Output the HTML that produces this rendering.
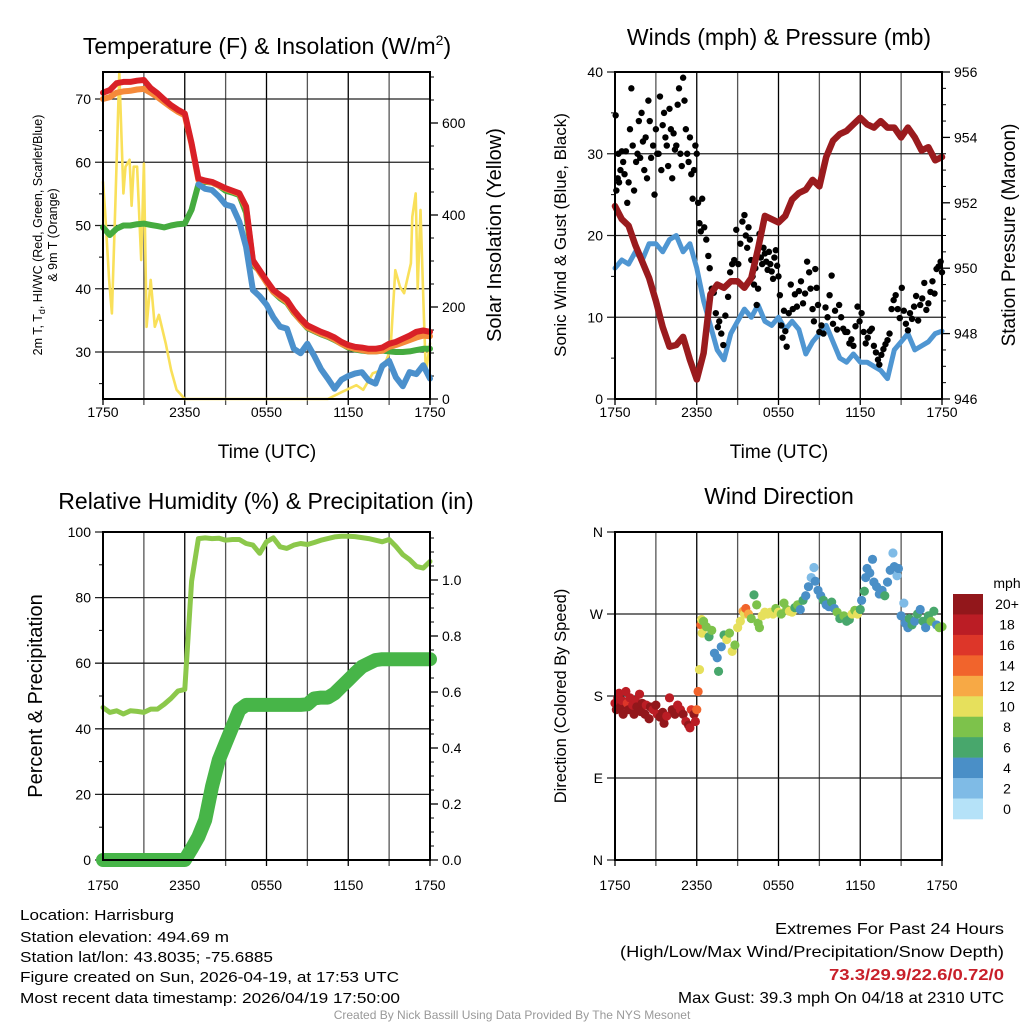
<!DOCTYPE html>
<html><head><meta charset="utf-8">
<style>
html,body{margin:0;padding:0;background:#fff;}
svg{display:block;font-family:"Liberation Sans",Arial,sans-serif;}
</style></head>
<body>
<svg id="fig" width="1024" height="1024" viewBox="0 0 1024 1024">
<rect x="0" y="0" width="1024" height="1024" fill="#fff"/>
<g id="layer"></g>
<g fill="#000" text-anchor="middle">
<text x="267" y="54" font-size="23">Temperature (F) &amp; Insolation (W/m<tspan font-size="14" dy="-9">2</tspan><tspan dy="9">)</tspan></text>
<text x="779" y="45" font-size="23">Winds (mph) &amp; Pressure (mb)</text>
<text x="266" y="509" font-size="23">Relative Humidity (%) &amp; Precipitation (in)</text>
<text x="779" y="504" font-size="23">Wind Direction</text>
<text x="267" y="458" font-size="19">Time (UTC)</text>
<text x="779" y="458" font-size="19">Time (UTC)</text>
<text transform="translate(42,235) rotate(-90)" font-size="12.5">2m T, T<tspan font-size="9" dy="3">d</tspan><tspan dy="-3">, HI/WC (Red, Green, Scarlet/Blue)</tspan></text>
<text transform="translate(57,235) rotate(-90)" font-size="12.5">&amp; 9m T (Orange)</text>
<text transform="translate(501,235) rotate(-90)" font-size="20">Solar Insolation (Yellow)</text>
<text transform="translate(566,235) rotate(-90)" font-size="17">Sonic Wind &amp; Gust (Blue, Black)</text>
<text transform="translate(1015,235) rotate(-90)" font-size="19">Station Pressure (Maroon)</text>
<text transform="translate(42,696) rotate(-90)" font-size="20">Percent &amp; Precipitation</text>
<text transform="translate(566,696) rotate(-90)" font-size="16.5">Direction (Colored By Speed)</text>
<text x="1007" y="588" font-size="14">mph</text>
</g>
<g font-size="15" fill="#000">
<text x="20" y="920" textLength="154" lengthAdjust="spacingAndGlyphs">Location: Harrisburg</text>
<text x="20" y="942" textLength="209" lengthAdjust="spacingAndGlyphs">Station elevation: 494.69 m</text>
<text x="20" y="962" textLength="253" lengthAdjust="spacingAndGlyphs">Station lat/lon: 43.8035; -75.6885</text>
<text x="20" y="982" textLength="379" lengthAdjust="spacingAndGlyphs">Figure created on Sun, 2026-04-19, at 17:53 UTC</text>
<text x="20" y="1003" textLength="380" lengthAdjust="spacingAndGlyphs">Most recent data timestamp: 2026/04/19 17:50:00</text>
</g>
<g font-size="16" fill="#000" text-anchor="end">
<text x="1004" y="934" textLength="229" lengthAdjust="spacingAndGlyphs">Extremes For Past 24 Hours</text>
<text x="1004" y="957" textLength="384" lengthAdjust="spacingAndGlyphs">(High/Low/Max Wind/Precipitation/Snow Depth)</text>
<text x="1004" y="980" textLength="175" lengthAdjust="spacingAndGlyphs" fill="#c8202a" font-weight="bold">73.3/29.9/22.6/0.72/0</text>
<text x="1004" y="1003" textLength="326" lengthAdjust="spacingAndGlyphs">Max Gust: 39.3 mph On 04/18 at 2310 UTC</text>
</g>
<text x="512" y="1019" font-size="12" fill="#999" text-anchor="middle">Created By Nick Bassill Using Data Provided By The NYS Mesonet</text>
</svg>
<script>
// ---- shared time axis ----
const hours = [0,0.5,1,1.5,2,2.5,3,3.5,4,4.5,5,5.5,6,6.5,7,7.5,8,8.5,9,9.5,10,10.5,11,11.5,12,12.5,13,13.5,14,14.5,15,15.5,16,16.5,17,17.5,18,18.5,19,19.5,20,20.5,21,21.5,22,22.5,23,23.5,24];
const timeTickLabels = ["1750","2350","0550","1150","1750"];
const timeTickHours = [0,6,12,18,24];
// ---- panel 1: temperature ----
const temp2m = [71.0,71.4,72.5,72.7,72.7,72.9,73.0,71.7,70.9,69.9,69.0,68.3,67.7,63.0,57.4,57.1,56.9,56.4,55.9,55.5,55.1,53.0,44.5,42.9,41.3,39.8,39.0,38.2,36.6,35.3,34.2,33.7,33.2,32.8,32.3,31.6,31.1,30.8,30.7,30.5,30.5,30.7,31.3,31.6,32.1,32.6,33.2,33.4,33.2];
const temp9m = [70.0,70.3,71.0,71.2,71.3,71.5,71.6,71.0,70.3,69.5,68.7,68.0,67.4,62.8,57.2,57.0,56.8,56.3,55.8,55.4,55.0,52.8,44.3,42.6,41.0,39.5,38.7,37.9,36.3,35.0,33.9,33.4,32.9,32.5,32.0,31.3,30.8,30.5,30.3,30.1,30.1,30.2,30.8,31.1,31.5,31.9,32.3,32.6,32.5];
const dewpoint = [49.7,48.5,49.5,50.0,50.0,50.2,50.3,50.1,49.9,49.7,50.0,50.2,50.3,52.5,56.5,56.9,56.8,56.3,55.5,55.2,54.8,52.0,43.8,42.8,41.0,39.5,38.5,37.8,36.2,35.0,33.8,33.3,32.8,32.4,31.9,31.3,30.7,30.4,30.2,30.1,30.1,30.2,30.1,30.0,30.0,30.1,30.3,30.5,30.5];
const windChill = [null,null,null,null,null,null,null,null,null,null,null,null,null,null,56.5,55.8,55.6,54.6,53.3,53.0,50.6,46.6,39.8,38.8,37.5,35.5,34.0,33.7,30.5,29.8,31.3,29.4,27.3,25.8,24.2,25.6,26.2,26.6,26.8,25.5,25.0,27.8,28.6,26.0,24.6,26.8,26.5,27.9,25.8];
const solarHours = [0,0.15,0.45,0.65,0.9,1.2,1.5,1.65,1.95,2.1,2.25,2.5,2.6,2.8,3.0,3.2,3.5,3.8,4.1,4.6,5.0,5.4,6.0,8,12,16.5,17.6,18.6,19.1,19.8,20.5,21.1,21.45,21.8,22.1,22.6,22.7,22.95,23.1,23.3,23.55,23.7,24];
const solarWm2 = [472,411,260,186,420,711,447,505,520,420,505,505,440,302,512,157,259,157,183,121,63,20,0,0,0,0,16,30,20,56,63,107,280,244,230,295,396,447,240,411,179,56,121];
// ---- panel 2: winds ----
const sonicWind = [16.0,17.0,16.5,18.0,17.0,19.0,19.0,18.0,19.5,20.0,18.0,19.0,16.0,12.0,9.0,6.0,4.8,8.0,9.5,11.0,10.0,11.5,9.5,9.0,10.0,8.5,9.5,8.5,5.5,7.0,8.0,9.0,7.0,5.0,4.5,5.5,4.5,4.5,4.0,3.5,2.5,6.0,7.0,8.0,6.0,6.5,7.0,8.0,8.3];
const pressure = [951.9,951.5,951.3,950.7,950.2,949.7,949.0,948.2,947.6,947.65,947.9,947.2,946.6,947.4,949.2,949.5,949.4,949.6,949.6,949.4,949.7,950.6,951.6,951.5,951.4,951.6,952.1,952.3,952.4,952.7,952.5,953.4,953.9,954.1,954.2,954.4,954.6,954.4,954.3,954.5,954.3,954.3,954.0,954.3,954.0,953.6,953.7,953.3,953.4];
const gustHours = [0.05,0.1,0.2,0.25,0.3,0.4,0.5,0.6,0.7,0.8,0.9,1.0,1.1,1.2,1.3,1.4,1.55,1.65,1.75,1.85,1.95,2.05,2.15,2.25,2.35,2.45,2.55,2.65,2.8,2.9,3.0,3.1,3.2,3.3,3.4,3.5,3.6,3.7,3.8,3.9,4.0,4.1,4.2,4.3,4.4,4.5,4.6,4.7,4.8,4.9,5.0,5.1,5.2,5.3,5.4,5.5,5.6,5.7,5.8,5.9,6.0,6.1,6.2,6.3,6.4,6.55,6.7,6.85,6.95,7.1,7.25,7.4,7.55,7.65,7.8,7.95,8.1,8.3,8.45,8.6,8.75,8.9,9.05,9.2,9.35,9.5,9.6,9.7,9.8,9.9,10.0,10.1,10.2,10.3,10.4,10.5,10.6,10.7,10.8,10.9,11.0,11.1,11.2,11.3,11.4,11.5,11.6,11.7,11.8,11.9,12.0,12.1,12.2,12.3,12.4,12.5,12.6,12.75,12.9,13.05,13.2,13.35,13.5,13.65,13.8,13.95,14.1,14.25,14.35,14.5,14.6,14.7,14.8,14.9,15.0,15.15,15.3,15.45,15.6,15.75,15.9,16.0,16.15,16.3,16.45,16.6,16.75,16.9,17.05,17.2,17.35,17.5,17.65,17.8,17.95,18.1,18.25,18.4,18.55,18.7,18.85,19.0,19.15,19.3,19.4,19.55,19.7,19.85,20.0,20.15,20.3,20.45,20.6,20.75,20.9,21.05,21.2,21.35,21.5,21.65,21.8,21.95,22.1,22.25,22.4,22.55,22.7,22.85,23.0,23.15,23.3,23.45,23.6,23.75,23.9,24.0];
const gustMph = [34.7,25.5,27,30,26.5,28,30.3,29,27.5,30.3,24,26.5,33,38,31,25.5,29,30,34,29.5,35,31.5,28,32,27,36.5,34,29.5,31,25,33,30,30,37,28,33.5,35,32,31,28.5,35.5,33,27,32.5,30.5,31,36,38,30,28.5,39.3,36.5,33,30,29,32,27.5,24.5,28,31,30,24,21.5,20.5,24.5,21,19.5,17.5,16,13.5,13,10.5,8.8,9.5,8,6.6,10.2,12.5,15.5,16.5,17,20.7,16.5,19,21.7,22.5,20,18.5,21,19.5,17,15,14,16,11.5,13.5,20.2,17.3,16.5,18.5,17.8,16.8,15.8,18,16.5,15.6,14.7,17.3,18.2,16.3,15,12.7,9,7.5,10.8,8.3,6.4,10.5,14,11,12.8,11.3,13.2,14.4,11.7,12.9,16.8,15.5,13.5,11,9.5,15.9,13.6,11.5,8.2,9,8,11.2,10,12.7,15.1,9.2,10.8,8.5,11.5,10,8.6,8.2,8.2,6.8,7.3,6.5,8.9,11.3,9.5,10.5,8.2,6.8,7.5,8.3,8.6,6.5,5.7,4.8,4.2,5.4,6.1,6.7,7.2,8,11,12.1,12.7,11,9.9,13.6,10.8,9.2,8.4,10.5,9.8,11.3,12.6,9.6,11.5,12.3,14.2,10.9,11.7,13.1,14.4,12.9,15.9,16.2,16.8,15.5];
// ---- panel 3: humidity & precipitation ----
const relHumidity = [46.5,45.0,45.5,44.5,45.5,45.3,45.0,46.0,46.0,47.5,49.3,51.5,52.0,85.0,98.0,98.2,98.0,98.1,97.5,97.7,97.7,96.5,96.0,93.5,97.0,98.2,95.5,95.0,96.0,96.5,96.2,96.8,97.5,98.0,98.5,98.7,98.7,98.6,98.3,98.0,97.5,97.0,97.7,95.6,93.1,91.6,89.5,89.0,91.0];
const precipIn = [0,0,0,0,0,0,0,0,0,0,0,0,0,0.04,0.083,0.143,0.262,0.357,0.417,0.476,0.536,0.554,0.554,0.554,0.554,0.554,0.554,0.554,0.554,0.554,0.556,0.577,0.580,0.580,0.595,0.619,0.643,0.667,0.690,0.702,0.714,0.717,0.717,0.717,0.717,0.717,0.717,0.717,0.717];
// ---- panel 4: wind direction ----
const dirHours = [0.0,0.1,0.2,0.3,0.4,0.5,0.6,0.8,0.9,1.0,1.1,1.3,1.4,1.5,1.6,1.8,1.9,2.0,2.2,2.3,2.5,2.6,2.8,3.0,3.1,3.3,3.5,3.6,3.8,4.0,4.2,4.4,4.6,4.8,5.0,5.2,5.4,5.5,5.6,5.8,5.9,6.0,6.1,6.2,6.3,6.35,6.4,6.5,6.7,6.9,7.1,7.3,7.5,7.6,7.8,8.0,8.2,8.4,8.6,8.8,9.0,9.2,9.4,9.5,9.6,9.8,10.0,10.2,10.4,10.5,10.6,10.8,11.0,11.2,11.4,11.6,11.8,12.0,12.2,12.4,12.6,12.8,13.0,13.2,13.4,13.6,13.8,14.0,14.2,14.4,14.6,14.7,14.9,15.1,15.3,15.5,15.7,15.9,16.1,16.3,16.5,16.8,17.0,17.2,17.4,17.6,17.8,18.0,18.1,18.3,18.4,18.5,18.7,18.9,19.0,19.2,19.4,19.6,19.8,20.0,20.2,20.4,20.5,20.7,20.8,21.0,21.2,21.3,21.5,21.6,21.8,22.0,22.2,22.4,22.6,22.8,23.0,23.2,23.4,23.6,23.8,24.0];
const dirDeg = [172,165,178,183,168,175,160,185,172,165,178,170,160,175,168,182,163,172,160,170,155,168,165,170,160,157,162,150,158,178,165,160,170,165,160,152,148,145,165,160,152,165,185,209,258,264,249,262,256,245,252,227,222,207,234,247,242,249,229,236,255,262,273,270,276,270,265,291,280,260,255,268,272,270,272,270,276,272,270,282,275,273,272,277,280,275,285,290,300,310,321,306,296,290,285,280,278,283,276,272,265,268,262,264,270,274,270,275,285,295,310,320,315,330,305,300,292,296,290,305,318,337,322,312,320,268,282,260,255,265,258,262,270,275,262,255,268,262,273,258,255,256];
const dirSpeed = [18,20,18,17,20,18,20,18,16,20,17,18,20,18,20,18,20,19,20,18,20,20,18,20,18,20,20,20,18,17,20,20,18,17,20,18,20,18,16,20,18,13,13,10,14,10,10,8,8,6,8,4,4,6,4,6,10,8,10,8,10,10,12,10,14,11,8,6,8,8,8,10,10,10,10,10,8,10,8,8,8,10,10,6,8,4,6,4,4,2,2,4,4,4,6,4,4,6,4,8,6,8,6,6,10,8,10,6,4,6,4,4,4,4,4,4,4,4,6,4,4,2,4,2,4,4,2,4,4,6,6,4,6,4,6,4,6,8,6,4,8,8,8];
const speedBins = ["0","2","4","6","8","10","12","14","16","18","20+"];
const speedColors = ["#b5e2f8","#7fbbe6","#4a8fc7","#48a76c","#7dc24b","#e6e05c","#f7a945","#f1642c","#dd3629","#bb1d25","#92171b"];

const NS = "http://www.w3.org/2000/svg";
const layer = document.getElementById("layer");
function mk(tag, attrs, parent) {
  const el = document.createElementNS(NS, tag);
  for (const k in attrs) el.setAttribute(k, attrs[k]);
  (parent || layer).appendChild(el);
  return el;
}
function linear(d0, d1, r0, r1) { return v => r0 + (v - d0) * (r1 - r0) / (d1 - d0); }
function pathFrom(xs, ys, sx, sy) {
  let d = "", pen = false;
  for (let i = 0; i < xs.length; i++) {
    if (ys[i] === null) { pen = false; continue; }
    d += (pen ? "L" : "M") + sx(xs[i]).toFixed(1) + "," + sy(ys[i]).toFixed(1);
    pen = true;
  }
  return d;
}
function colorForSpeed(s) {
  let i = Math.min(10, Math.max(0, Math.round(s / 2)));
  return speedColors[i];
}

function axesFrame(p, name) {
  const g = mk("g", {});
  
  
  for (let h = 0; h <= 24; h += 3) {
    const x = p.sx(h);
    const ln = mk("line", {x1: x, y1: p.y0, x2: x, y2: p.y1 + 6, stroke: (h % 6 === 0) ? "#000" : "#555", "stroke-width": 1.3}, g);
    
    
  }
  p.leftTicks.forEach((v, i) => {
    const y = p.syL(v);
    const ln = mk("line", {x1: p.x0 - 8, y1: y, x2: p.x1, y2: y, stroke: "#222", "stroke-width": 1.3}, g);
    
    
    const t = mk("text", {x: p.x0 - 12, y: y + 5, "font-size": 14, "text-anchor": "end"}, g);
    t.textContent = p.leftLabels[i];
    
    
  });
  (p.leftMinor || []).forEach(v => {
    const y = p.syL(v);
    const ln = mk("line", {x1: p.x0 - 4, y1: y, x2: p.x0, y2: y, stroke: "#000", "stroke-width": 1}, g);
    
    
  });
  if (p.rightTicks) {
    p.rightTicks.forEach((v, i) => {
      const y = p.syR(v);
      const ln = mk("line", {x1: p.x1, y1: y, x2: p.x1 + 8, y2: y, stroke: "#000", "stroke-width": 1.3}, g);
      
      
      const t = mk("text", {x: p.x1 + 12, y: y + 5, "font-size": 14}, g);
      t.textContent = p.rightLabels[i];
      
      
    });
    (p.rightMinor || []).forEach(v => {
      const y = p.syR(v);
      const ln = mk("line", {x1: p.x1, y1: y, x2: p.x1 + 4, y2: y, stroke: "#000", "stroke-width": 1}, g);
      
      
    });
  }
  timeTickHours.forEach((h, i) => {
    const t = mk("text", {x: p.sx(h), y: p.y1 + p.labOff, "font-size": 14, "text-anchor": "middle"}, g);
    t.textContent = timeTickLabels[i];
    
    
  });
}
function frameBox(p, name) {
  const r = mk("rect", {x: p.x0, y: p.y0, width: p.x1 - p.x0, height: p.y1 - p.y0, fill: "none", stroke: "#000", "stroke-width": 2});
  
  
}
function range(a, b, s) { const r = []; for (let v = a; v <= b + 1e-9; v += s) r.push(+v.toFixed(4)); return r; }
function addLine(p, xs, ys, sy, color, w, name) {
  const el = mk("path", {d: pathFrom(xs, ys, p.sx, sy), fill: "none", stroke: color, "stroke-width": w, "stroke-linejoin": "round", "stroke-linecap": "round"});
  
  
  return el;
}

// Panel 1
const p1 = {x0: 103, x1: 430, y0: 72, y1: 399, labOff: 18};
p1.sx = linear(0, 24, p1.x0, p1.x1);
p1.syL = linear(30, 70, 352, 99);
p1.syR = linear(0, 600, 399, 123);
p1.leftTicks = [30, 40, 50, 60, 70]; p1.leftLabels = ["30", "40", "50", "60", "70"];
p1.leftMinor = [25, 35, 45, 55, 65];
p1.rightTicks = [0, 200, 400, 600]; p1.rightLabels = ["0", "200", "400", "600"];
p1.rightMinor = range(50, 700, 50).filter(v => v % 200 !== 0);
axesFrame(p1, "temperature");
addLine(p1, solarHours, solarWm2, p1.syR, "#f9e05a", 2.6, "solar-insolation-line");
addLine(p1, hours, dewpoint, p1.syL, "#45ab3f", 6, "dewpoint-line");
addLine(p1, hours, temp9m, p1.syL, "#f58a3a", 6, "temp-9m-line");
addLine(p1, hours, temp2m, p1.syL, "#d92027", 6, "temp-2m-line");
addLine(p1, hours, windChill, p1.syL, "#4b90cc", 6, "wind-chill-line");
frameBox(p1, "temperature");

// Panel 2
const p2 = {x0: 615, x1: 942, y0: 72, y1: 399, labOff: 18};
p2.sx = linear(0, 24, p2.x0, p2.x1);
p2.syL = linear(0, 40, 399, 72);
p2.syR = linear(946, 956, 399, 72);
p2.leftTicks = [0, 10, 20, 30, 40]; p2.leftLabels = ["0", "10", "20", "30", "40"];
p2.leftMinor = [5, 15, 25, 35];
p2.rightTicks = [946, 948, 950, 952, 954, 956]; p2.rightLabels = ["946", "948", "950", "952", "954", "956"];
p2.rightMinor = range(946.5, 955.5, 0.5).filter(v => Math.abs(v % 2) > 0.01);
axesFrame(p2, "winds");
addLine(p2, hours, sonicWind, p2.syL, "#4f96d2", 5, "sonic-wind-line");
gustHours.forEach((h, i) => {
  const c = mk("circle", {cx: p2.sx(h), cy: p2.syL(gustMph[i]), r: 3.2, fill: "#000"});
  
  
});
addLine(p2, hours, pressure, p2.syR, "#9a1b1e", 6.5, "pressure-line");
frameBox(p2, "winds");

// Panel 3
const p3 = {x0: 103, x1: 430, y0: 532, y1: 860, labOff: 30};
p3.sx = linear(0, 24, p3.x0, p3.x1);
p3.syL = linear(0, 100, 860, 532);
p3.syR = linear(0, 1.0, 860, 580);
p3.leftTicks = [0, 20, 40, 60, 80, 100]; p3.leftLabels = ["0", "20", "40", "60", "80", "100"];
p3.leftMinor = [10, 30, 50, 70, 90];
p3.rightTicks = [0, 0.2, 0.4, 0.6, 0.8, 1.0]; p3.rightLabels = ["0.0", "0.2", "0.4", "0.6", "0.8", "1.0"];
p3.rightMinor = range(0.05, 1.15, 0.05).filter(v => Math.abs((v * 10) % 2) > 0.01);
axesFrame(p3, "humidity");
addLine(p3, hours, relHumidity, p3.syL, "#8cc84b", 5, "relative-humidity-line");
addLine(p3, hours, precipIn, p3.syR, "#47b548", 14, "precipitation-line");
frameBox(p3, "humidity");

// Panel 4
const p4 = {x0: 615, x1: 942, y0: 532, y1: 860, labOff: 30};
p4.sx = linear(0, 24, p4.x0, p4.x1);
p4.syL = linear(0, 360, 860, 532);
p4.leftTicks = [0, 90, 180, 270, 360]; p4.leftLabels = ["N", "E", "S", "W", "N"];
axesFrame(p4, "direction");
dirHours.forEach((h, i) => {
  const c = mk("circle", {cx: p4.sx(h), cy: p4.syL(dirDeg[i]), r: 4.6, fill: colorForSpeed(dirSpeed[i])});
  
  
});
frameBox(p4, "direction");

// Colorbar
const cbTop = 594, cbBot = 819, cbH = (cbBot - cbTop) / speedBins.length;
for (let i = 0; i < speedBins.length; i++) {
  const idx = speedBins.length - 1 - i;
  const r = mk("rect", {x: 953, y: cbTop + i * cbH, width: 30, height: cbH + 0.3, fill: speedColors[idx]});
  
  
  const t = mk("text", {x: 1007, y: cbTop + i * cbH + cbH / 2 + 5, "font-size": 14, "text-anchor": "middle"});
  t.textContent = speedBins[idx];
  
  
}
</script>
</body></html>
